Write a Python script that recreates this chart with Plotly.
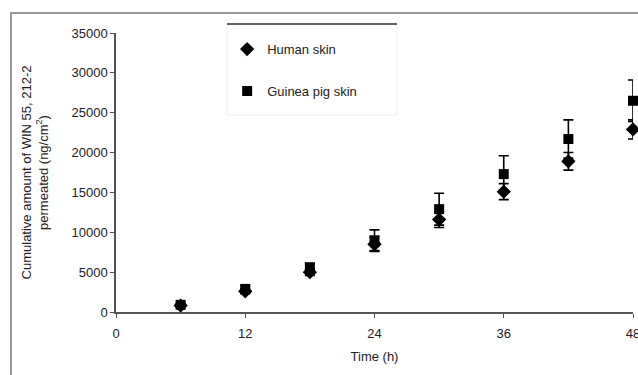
import plotly.graph_objects as go

time_h = [6, 12, 18, 24, 30, 36, 42, 48]
human = [800, 2600, 5000, 8500, 11600, 15100, 18900, 22900]
human_err = [200, 300, 400, 900, 1000, 1000, 1100, 1200]
guinea = [900, 2900, 5600, 9000, 12900, 17300, 21700, 26500]
guinea_err = [200, 400, 500, 1300, 2000, 2300, 2400, 2600]
x_ticks = [0, 12, 24, 36, 48]
y_ticks = [0, 5000, 10000, 15000, 20000, 25000, 30000, 35000]

FONT = "Liberation Sans, Arial, sans-serif"

fig = go.Figure()
fig.add_trace(go.Scatter(
    x=time_h, y=human, mode="markers", name="Human skin",
    legendgroup="h",
    marker=dict(symbol="diamond", size=11, color="black"),
    error_y=dict(type="data", array=human_err, color="black", thickness=1.6, width=5),
    cliponaxis=False,
))
fig.add_trace(go.Scatter(
    x=time_h, y=guinea, mode="markers", name="Guinea pig skin",
    legendgroup="g",
    marker=dict(symbol="square", size=10, color="black"),
    error_y=dict(type="data", array=guinea_err, color="black", thickness=1.6, width=5),
    cliponaxis=False,
))

fig.update_layout(
    width=638, height=375,
    margin=dict(l=116, r=5, t=33, b=63),
    plot_bgcolor="white", paper_bgcolor="white",
    font=dict(family=FONT, size=13, color="#222"),
    showlegend=True,
    legend=dict(
        x=0.215, y=0.996, xanchor="left", yanchor="top",
        bgcolor="rgba(0,0,0,0)", borderwidth=0,
        tracegroupgap=22, font=dict(size=13, color="#222"),
        itemwidth=30,
    ),
    xaxis=dict(
        range=[0, 48], tickvals=x_ticks, ticktext=[str(v) for v in x_ticks],
        showgrid=False, zeroline=False, showline=True, linecolor="#555", linewidth=1.5,
        ticks="outside", ticklen=4, tickcolor="#555",
        ticklabeloverflow="allow", ticklabelstandoff=5, automargin=False,
        title=dict(text="Time (h)", font=dict(size=13), standoff=12),
        tickfont=dict(size=13),
    ),
    yaxis=dict(
        range=[0, 35000], tickvals=y_ticks, tickformat="d", automargin=False,
        showgrid=False, zeroline=False, showline=True, linecolor="#555", linewidth=1.5,
        ticks="outside", ticklen=4, tickcolor="#555",
        title=dict(text="Cumulative amount of WIN 55, 212-2<br>permeated (ng/cm<sup>2</sup>)",
                   font=dict(size=13), standoff=20),
        tickfont=dict(size=13),
    ),
    shapes=[
        dict(type="rect", xref="paper", yref="paper", x0=-0.2031, y0=-0.6, x1=1.3, y1=1.0717,
             line=dict(color="#999", width=2), fillcolor="rgba(0,0,0,0)", layer="below"),
        dict(type="rect", xref="paper", yref="paper", x0=0.2147, y0=0.706, x1=0.5435, y1=1.032,
             line=dict(color="#eee", width=1), fillcolor="white", layer="below"),
        dict(type="line", xref="paper", yref="paper", x0=0.2147, y0=1.032, x1=0.5435, y1=1.032,
             line=dict(color="#333", width=1.5)),
    ],
)

fig.write_html("out.html")
